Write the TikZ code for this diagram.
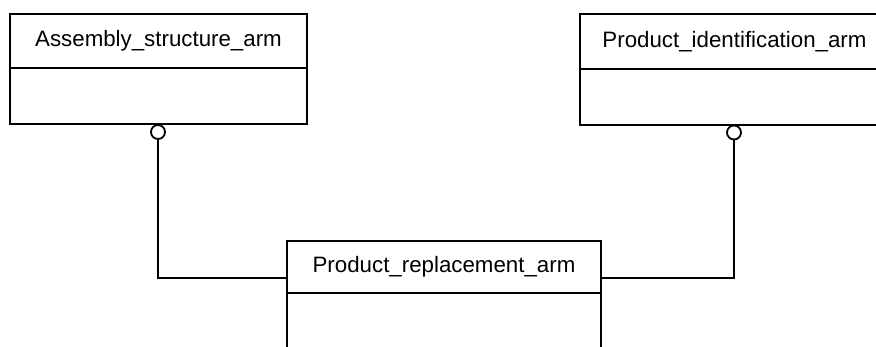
\documentclass[tikz,border=0pt]{standalone}
\usepackage{fontspec}
\setmainfont{Liberation Sans}
\begin{document}
\begin{tikzpicture}[x=1pt,y=-1pt, line width=1.8pt,
  hdr/.style={draw, rectangle, inner sep=0pt, outer sep=0pt, font=\fontsize{22.3}{26}\selectfont},
  bodybox/.style={draw, rectangle, inner sep=0pt, outer sep=0pt},
  ring/.style={draw, circle, inner sep=0pt, minimum size=14pt, fill=white},
  link/.style={draw, line width=1.8pt}]
\useasboundingbox (0,0) rectangle (876,347);
\begin{scope}
\clip (0,0) rectangle (876,347);
% Assembly_structure_arm
\node[hdr, minimum width=297pt, minimum height=54pt] (Ah) at (158.5,41) {Assembly\_structure\_arm};
\node[bodybox, minimum width=297pt, minimum height=56pt, anchor=north] (Ab) at (Ah.south) {};
% Product_identification_arm
\node[hdr, minimum width=309pt, minimum height=55pt] (Bh) at (734.5,41.5) {Product\_identification\_arm};
\node[bodybox, minimum width=309pt, minimum height=56pt, anchor=north] (Bb) at (Bh.south) {};
% Product_replacement_arm
\node[hdr, minimum width=314pt, minimum height=52pt] (Ch) at (444,267) {Product\_replacement\_arm};
\node[bodybox, minimum width=314pt, minimum height=80pt, anchor=north] (Cb) at (Ch.south) {};
% rings
\node[ring] (Ar) at (158,132) {};
\node[ring] (Br) at (734,132.5) {};
% connectors
\path[link] (Ar.south) |- ([yshift=15pt]Ch.south west);
\path[link] (Br.south) |- ([yshift=15pt]Ch.south east);
\end{scope}
\end{tikzpicture}
\end{document}
